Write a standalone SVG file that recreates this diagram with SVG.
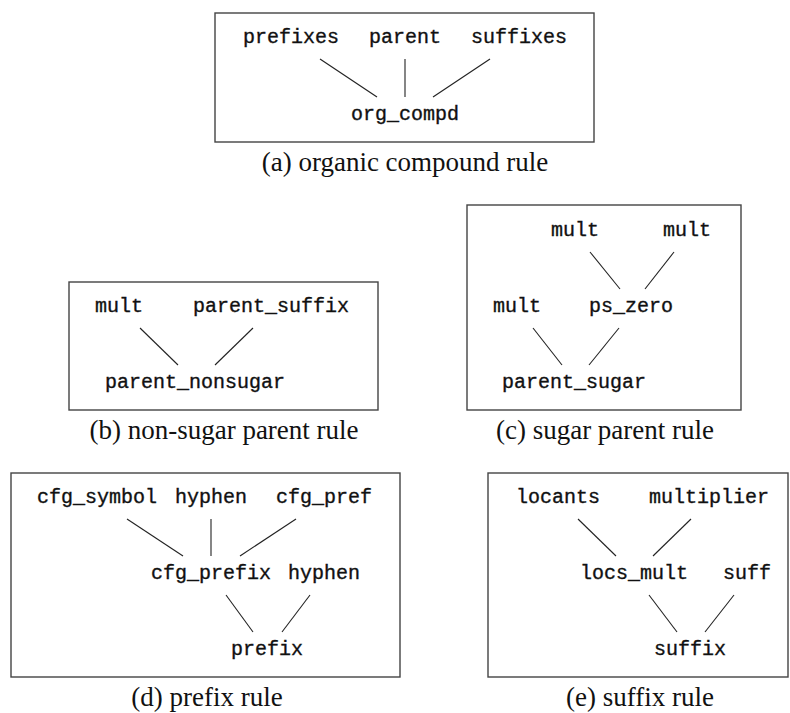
<svg xmlns="http://www.w3.org/2000/svg" width="790" height="713" viewBox="0 0 790 713">
<style>
.box{fill:none;stroke:#444;stroke-width:1.4}
.n{font-family:"Liberation Mono","DejaVu Sans Mono",monospace;font-size:20px;fill:#111;stroke:#111;stroke-width:0.35;text-anchor:middle}
.cap{font-family:"Liberation Serif","DejaVu Serif",serif;font-size:27px;fill:#111;text-anchor:middle}
.e line{stroke:#222;stroke-width:1.1}
</style>
<rect width="790" height="713" fill="#fff"/>

<g id="panel-a">
<rect class="box" x="215" y="13" width="379" height="129"/>
<g id="a-prefixes"><text class="n" x="291" y="43">prefixes</text></g>
<g id="a-parent"><text class="n" x="405" y="43">parent</text></g>
<g id="a-suffixes"><text class="n" x="519" y="43">suffixes</text></g>
<g id="a-org_compd"><text class="n" x="405" y="120">org_compd</text></g>
<text class="cap" x="405" y="171">(a) organic compound rule</text>
</g>

<g id="panel-b">
<rect class="box" x="69" y="282" width="309" height="128"/>
<g id="b-mult"><text class="n" x="119" y="312">mult</text></g>
<g id="b-parent_suffix"><text class="n" x="271" y="312">parent_suffix</text></g>
<g id="b-parent_nonsugar"><text class="n" x="195" y="388">parent_nonsugar</text></g>
<text class="cap" x="224" y="439">(b) non-sugar parent rule</text>
</g>

<g id="panel-c">
<rect class="box" x="467" y="205" width="274" height="205"/>
<g id="c-mult1"><text class="n" x="575" y="236">mult</text></g>
<g id="c-mult2"><text class="n" x="687" y="236">mult</text></g>
<g id="c-mult3"><text class="n" x="517" y="312">mult</text></g>
<g id="c-ps_zero"><text class="n" x="631" y="312">ps_zero</text></g>
<g id="c-parent_sugar"><text class="n" x="574" y="388">parent_sugar</text></g>
<text class="cap" x="605" y="439">(c) sugar parent rule</text>
</g>

<g id="panel-d">
<rect class="box" x="11" y="473" width="389" height="204"/>
<g id="d-cfg_symbol"><text class="n" x="97" y="503">cfg_symbol</text></g>
<g id="d-hyphen1"><text class="n" x="211" y="503">hyphen</text></g>
<g id="d-cfg_pref"><text class="n" x="324" y="503">cfg_pref</text></g>
<g id="d-cfg_prefix"><text class="n" x="211" y="579">cfg_prefix</text></g>
<g id="d-hyphen2"><text class="n" x="324" y="579">hyphen</text></g>
<g id="d-prefix"><text class="n" x="267" y="655">prefix</text></g>
<text class="cap" x="207" y="706">(d) prefix rule</text>
</g>

<g id="panel-e">
<rect class="box" x="488" y="473" width="300" height="204"/>
<g id="e-locants"><text class="n" x="558" y="503">locants</text></g>
<g id="e-multiplier"><text class="n" x="709" y="503">multiplier</text></g>
<g id="e-locs_mult"><text class="n" x="634" y="579">locs_mult</text></g>
<g id="e-suff"><text class="n" x="747" y="579">suff</text></g>
<g id="e-suffix"><text class="n" x="690" y="655">suffix</text></g>
<text class="cap" x="640" y="706">(e) suffix rule</text>
</g>

<g id="connectors" class="e">
<line x1="320" y1="59" x2="377" y2="97"/>
<line x1="405" y1="59" x2="405" y2="97"/>
<line x1="490" y1="59" x2="433" y2="97"/>

<line x1="140" y1="328" x2="178" y2="365"/>
<line x1="253" y1="328" x2="215" y2="365"/>

<line x1="590" y1="252" x2="620" y2="289"/>
<line x1="674" y1="252" x2="645" y2="289"/>
<line x1="533" y1="328" x2="562" y2="365"/>
<line x1="619" y1="328" x2="589" y2="365"/>

<line x1="127" y1="519" x2="183" y2="556"/>
<line x1="211" y1="519" x2="211" y2="556"/>
<line x1="296" y1="519" x2="240" y2="556"/>
<line x1="226" y1="595" x2="253" y2="632"/>
<line x1="310" y1="595" x2="282" y2="632"/>

<line x1="578" y1="519" x2="616" y2="556"/>
<line x1="691" y1="519" x2="653" y2="556"/>
<line x1="649" y1="595" x2="677" y2="632"/>
<line x1="734" y1="595" x2="705" y2="632"/>
</g>
</svg>
